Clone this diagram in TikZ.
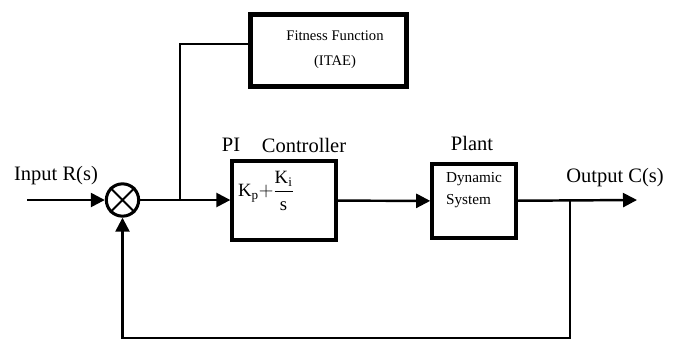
\documentclass[tikz,border=0pt]{standalone}
\usepackage{amsmath}
\usepackage{fontspec}
\setmainfont{Liberation Serif}
\usetikzlibrary{arrows.meta}

\tikzset{
    block/.style={draw,line width=3.4pt,inner sep=0pt},
    sumnode/.style={draw,circle,line width=2.6pt,minimum size=0.97cm,inner sep=0pt},
    biglabel/.style={font=\fontsize{17.5}{21}\selectfont},
    smalllabel/.style={font=\fontsize{13}{19}\selectfont}
}

\begin{document}
\begin{tikzpicture}[x=0.03cm,y=-0.03cm,line width=2.1pt,
        >={Triangle[length=4.2mm,width=4.2mm]}]
            \useasboundingbox (0,0) rectangle (682,340);
            % draw the summing junction
            \node[sumnode] (sum) at (122.5,200) {};
            \draw[line width=1.8pt] (sum.45) -- (sum.225) (sum.135) -- (sum.315);
            % draw the blocks
            \node[block,minimum width=3.1cm,minimum height=2.35cm] (ctrl) at (284,200.5) {};
            \node[font=\fontsize{16}{19}\selectfont] (gain) at (266,191)
                {$\mathrm{K_p}{+}\dfrac{\mathrm{K_i}}{\mathrm{s}}$};
            \node[block,line width=3.6pt,minimum width=2.5cm,minimum height=2.2cm] (plant) at (474,201) {};
            \node[smalllabel,align=left] (dyn) at (474,190) {Dynamic\\System};
            \node[block,line width=3.9pt,minimum width=4.67cm,minimum height=2.15cm] (fit) at (328.5,50.5) {};
            \node[font=\fontsize{12.5}{21}\selectfont,align=center] (fittxt) at (335,49.5) {Fitness Function\\(ITAE)};
            % labels
            \node[biglabel] (inlbl) at (56,176) {Input R(s)};
            \node[biglabel] (pilbl) at (231,145) {PI};
            \node[biglabel] (ctrllbl) at (304,145) {Controller};
            \node[biglabel] (plantlbl) at (472,143) {Plant};
            \node[biglabel] (outlbl) at (615,178) {Output C(s)};
            % connectors
            \coordinate (in) at (27,200);
            \coordinate (out) at (637,200);
            \coordinate (fittap) at (180,44);
            \coordinate (tap) at (570,200);
            \coordinate (fbcorner) at (570,338);
            \draw[->] (in) -- (sum);
            \draw[->] (sum) -- (sum -| ctrl.west);
            \draw[->] (ctrl) -- (plant);
            \draw[->] (plant) -- (out);
            \draw (fittap |- sum) -- (fittap) -- (fittap -| fit.west);
            \draw[->] (tap) -- (fbcorner) -| (sum.south);
\end{tikzpicture}
\end{document}
